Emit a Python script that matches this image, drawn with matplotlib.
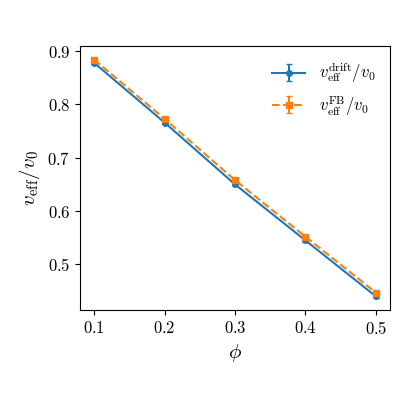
import matplotlib
matplotlib.use("Agg")
import matplotlib.pyplot as plt

plt.rcParams["font.family"] = "serif"
plt.rcParams["font.serif"] = ["cmr10", "DejaVu Serif"]
plt.rcParams["mathtext.fontset"] = "cm"
plt.rcParams["axes.formatter.use_mathtext"] = True

phi = [0.1, 0.2, 0.3, 0.4, 0.5]
v_drift = [0.878, 0.766, 0.650, 0.545, 0.440]
v_drift_err = [0.003, 0.003, 0.003, 0.003, 0.003]
v_fb = [0.884, 0.773, 0.658, 0.552, 0.447]
v_fb_err = [0.003, 0.003, 0.003, 0.003, 0.003]

fig, ax = plt.subplots(figsize=(4, 4), dpi=100)
ax.errorbar(phi, v_drift, yerr=v_drift_err, fmt="-o", color="#1f77b4",
            markersize=4, capsize=2, linewidth=1.5,
            label=r"$v_{\mathrm{eff}}^{\mathrm{drift}}/v_0$")
ax.errorbar(phi, v_fb, yerr=v_fb_err, fmt="--s", color="#ff7f0e",
            markersize=4, capsize=2, linewidth=1.5,
            label=r"$v_{\mathrm{eff}}^{\mathrm{FB}}/v_0$")
ax.set_xlabel(r"$\phi$", fontsize=15)
ax.set_ylabel(r"$v_{\mathrm{eff}}/v_0$", fontsize=15)
ax.set_xticks([0.1, 0.2, 0.3, 0.4, 0.5])
ax.set_yticks([0.5, 0.6, 0.7, 0.8, 0.9])
ax.tick_params(labelsize=12)
ax.legend(frameon=False, fontsize=12)
fig.subplots_adjust(left=0.2, right=0.975, top=0.885, bottom=0.225)
fig.savefig("out.png", dpi=100)
